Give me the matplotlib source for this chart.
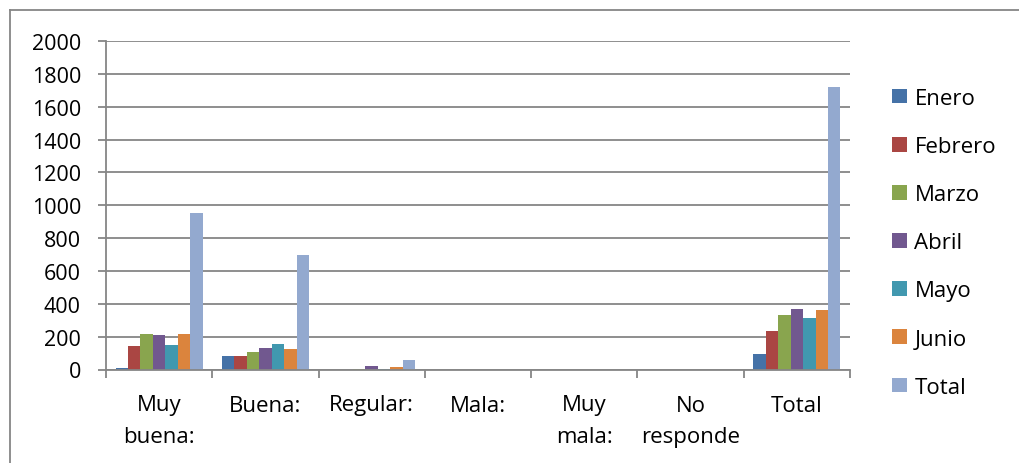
import numpy as np
import matplotlib
matplotlib.use('Agg')
import matplotlib.pyplot as plt
from matplotlib.lines import Line2D

# datos
categorias = ['Muy\nbuena:', 'Buena:', 'Regular:', 'Mala:', 'Muy\nmala:', 'No\nresponde', 'Total']
meses = ['Enero', 'Febrero', 'Marzo', 'Abril', 'Mayo', 'Junio', 'Total']

enero = [8, 85, 0, 0, 0, 0, 97]
febrero = [142, 85, 0, 0, 0, 0, 233]
marzo = [219, 107, 3, 0, 0, 0, 334]
abril = [210, 132, 24, 0, 0, 0, 371]
mayo = [150, 154, 4, 0, 0, 0, 312]
junio = [215, 126, 15, 0, 0, 0, 360]
total = [953, 697, 57, 0, 0, 0, 1717]

series = [enero, febrero, marzo, abril, mayo, junio, total]
cores = ['#4572A7', '#AA4643', '#89A54E', '#71588F', '#4198AF', '#DB843D', '#93A9CF']

plt.rcParams['font.family'] = ['Open Sans', 'DejaVu Sans']
fs = 16

fig = plt.figure(figsize=(10.19, 4.64), dpi=100)
ax = fig.add_axes([106 / 1019, 1 - 370.5 / 464, (850 - 106) / 1019, (370.5 - 42) / 464])

x = np.arange(len(categorias))
w = 0.117
for i, (vals, c) in enumerate(zip(series, cores)):
    ax.bar(x + (i - 3) * w, vals, width=w, color=c, linewidth=0, zorder=3, label=meses[i])

ax.set_xlim(-0.5, len(categorias) - 0.5)
ax.set_ylim(0, 2000)
ax.set_yticks(range(0, 2001, 200))
ax.yaxis.grid(True, color='#868686', linewidth=1.3, zorder=0)

# divisiones de categorias abajo, etiquetas en el centro
ax.set_xticks(np.arange(-0.5, len(categorias), 1.0))
ax.set_xticklabels([])
ax.set_xticks(x, minor=True)
ax.set_xticklabels(categorias, minor=True, fontsize=fs, linespacing=1.65)
ax.tick_params(axis='x', which='major', length=6, width=1.3, color='#868686')
ax.tick_params(axis='x', which='minor', length=0, pad=18)
ax.tick_params(axis='y', length=6, width=1.3, color='#868686', labelsize=15.5, pad=12)

for s in ['top', 'right']:
    ax.spines[s].set_visible(False)
for s in ['left', 'bottom']:
    ax.spines[s].set_color('#868686')
    ax.spines[s].set_linewidth(1.3)
    ax.spines[s].set_zorder(4)

leg = fig.legend(loc='upper left', bbox_to_anchor=(892 / 1019, 1 - 89 / 464), frameon=False,
                 fontsize=fs, handlelength=0.68, handleheight=0.63, handletextpad=0.33,
                 labelspacing=1.22, borderpad=0, borderaxespad=0)

# borde del area del grafico
fig.add_artist(Line2D([10 / 1019, 1.0], [1 - 11 / 464, 1 - 11 / 464], color='#868686', linewidth=1.3))
fig.add_artist(Line2D([10 / 1019, 10 / 1019], [0, 1 - 11 / 464], color='#868686', linewidth=1.3))

fig.savefig('out.png', dpi=100)
